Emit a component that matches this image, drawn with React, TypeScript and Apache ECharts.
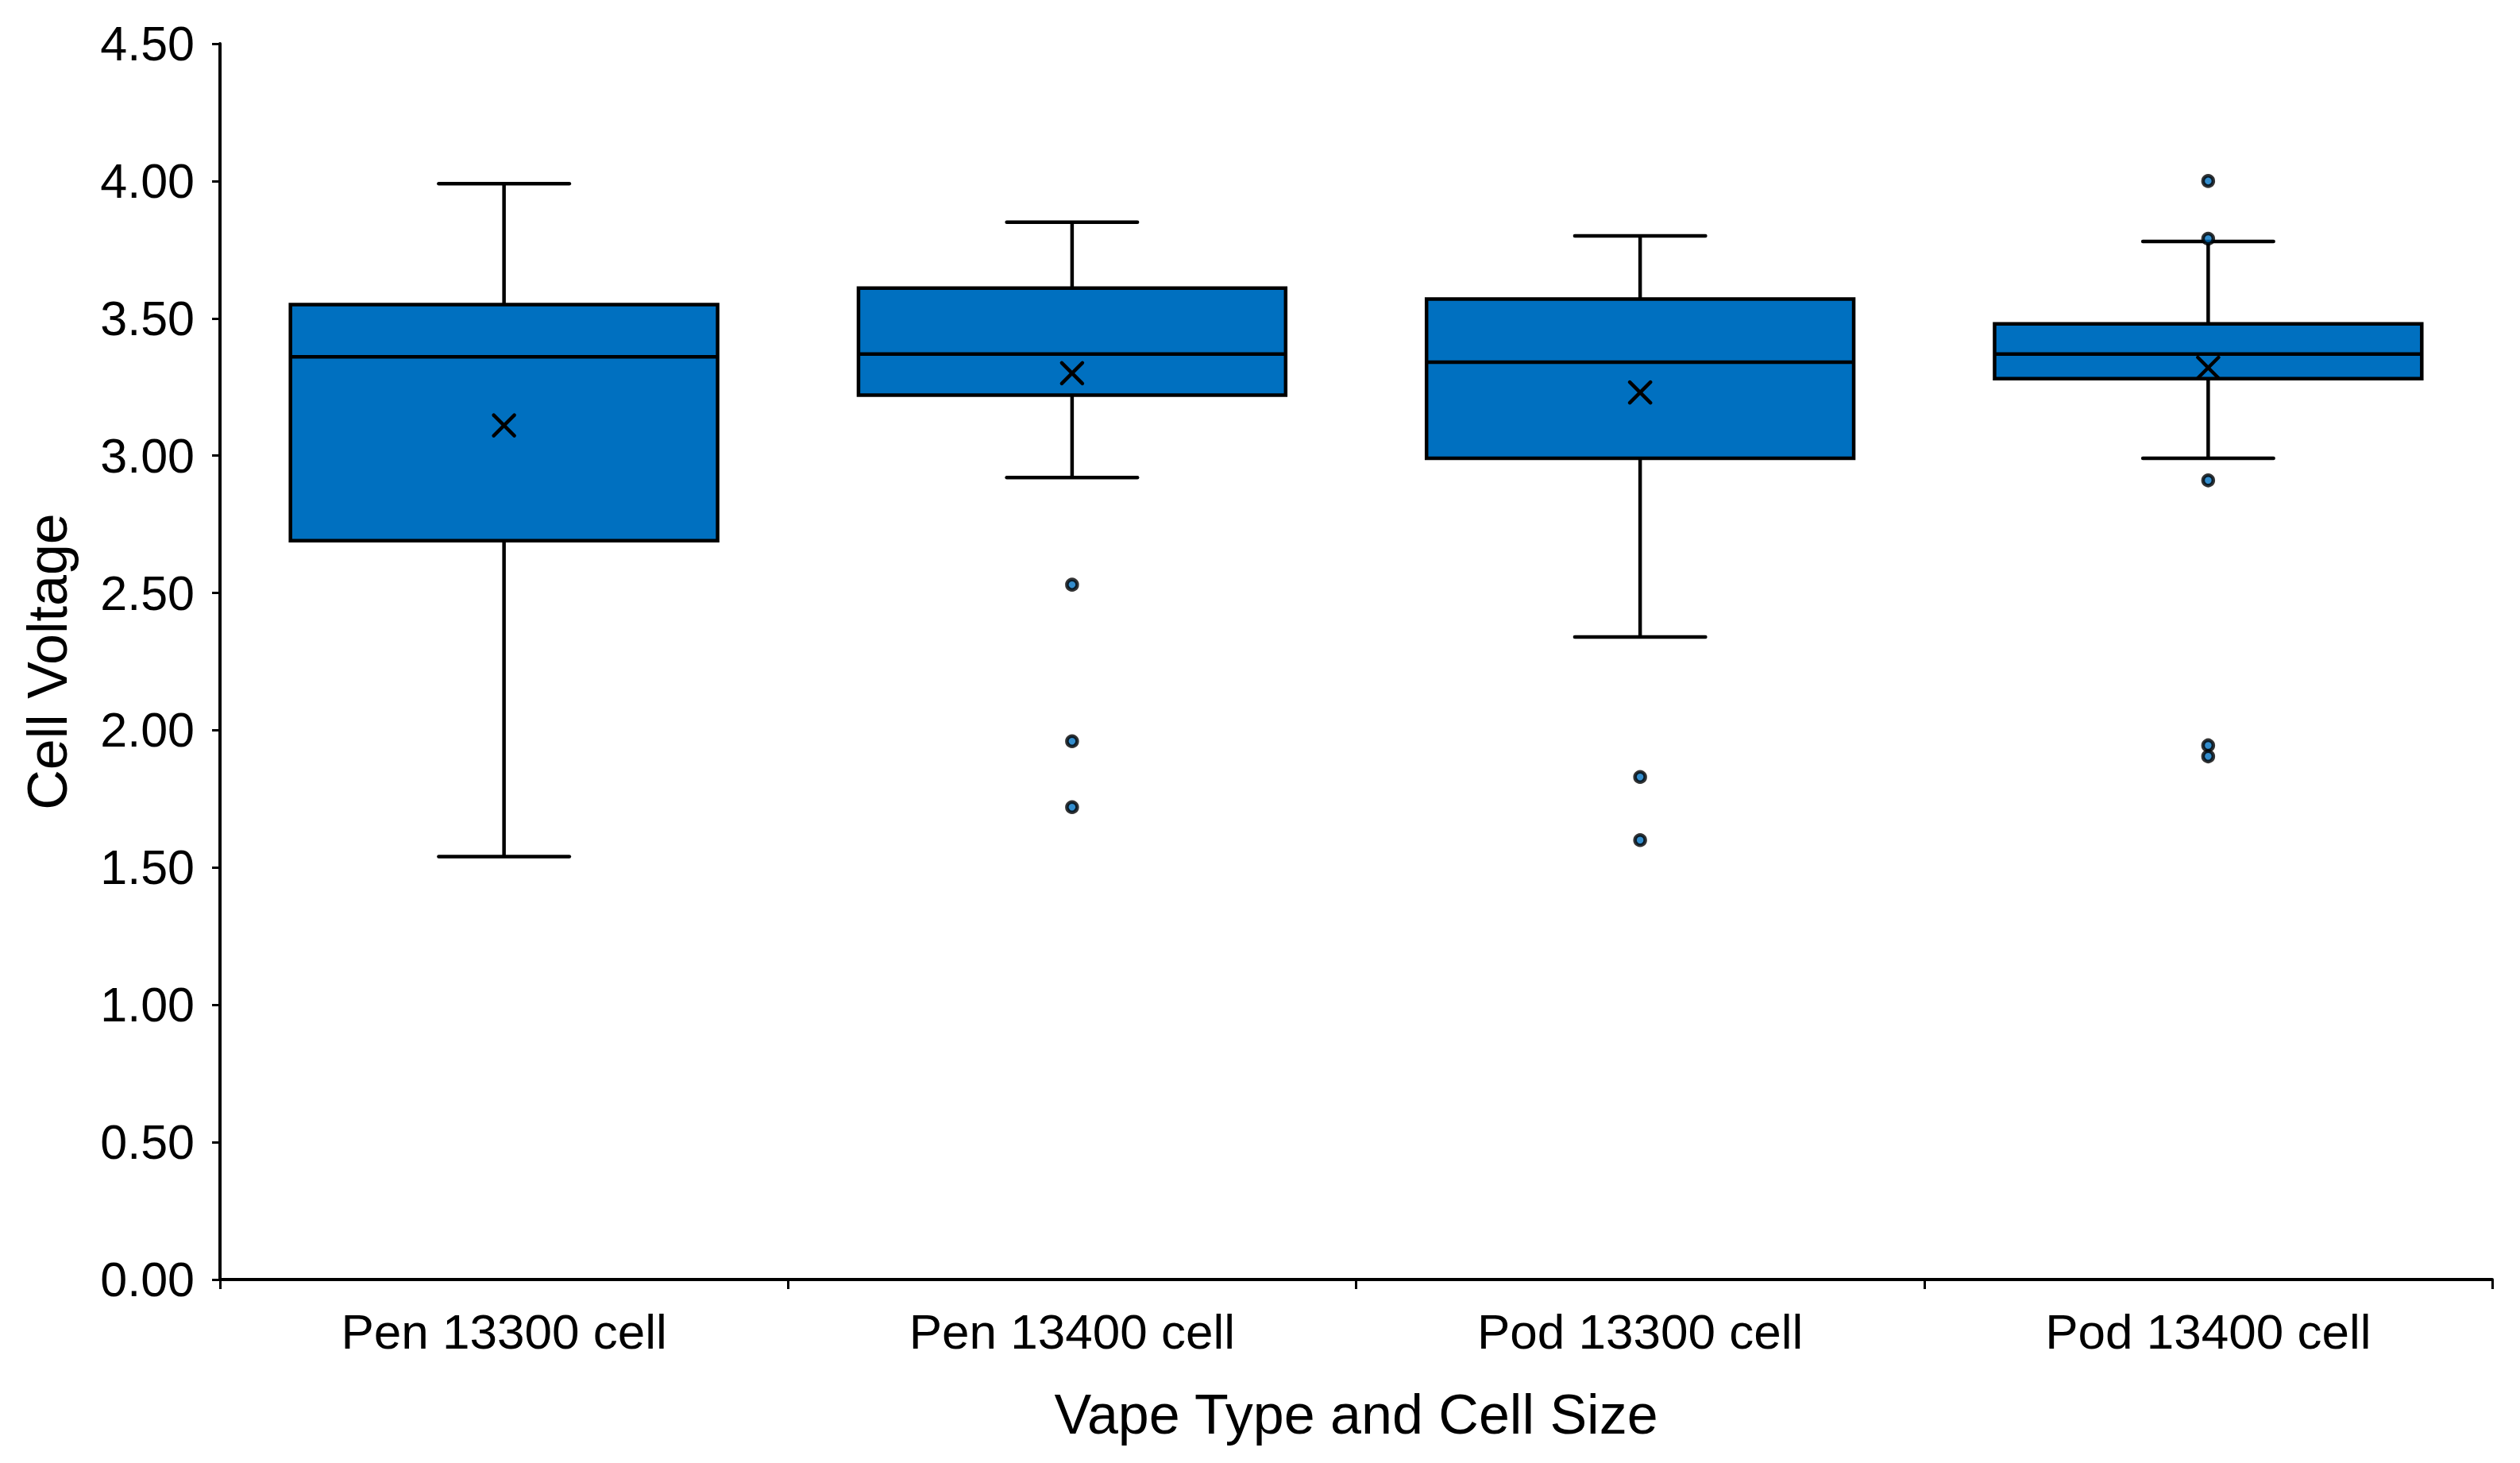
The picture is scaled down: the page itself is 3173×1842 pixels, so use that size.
import React, { useEffect, useRef } from "react";
import * as echarts from "echarts";

const categories = ["Pen 13300 cell", "Pen 13400 cell", "Pod 13300 cell", "Pod 13400 cell"];
const whiskerLow = [1.54, 2.92, 2.34, 2.99];
const q1 = [2.69, 3.22, 2.99, 3.28];
const median = [3.36, 3.37, 3.34, 3.37];
const q3 = [3.55, 3.61, 3.57, 3.48];
const whiskerHigh = [3.99, 3.85, 3.8, 3.78];
const mean = [3.11, 3.3, 3.23, 3.32];
const outlierCategory = [1, 1, 1, 2, 2, 3, 3, 3, 3, 3];
const outlierValue = [2.53, 1.96, 1.72, 1.83, 1.6, 4.0, 3.79, 2.91, 1.945, 1.905];

const yMin = 0;
const yMax = 4.5;
const yInterval = 0.5;

const FONT = "'Liberation Sans', Arial, Helvetica, sans-serif";
const BLUE = "#0070C0";

export default function App() {
  const ref = useRef<HTMLDivElement>(null);

  useEffect(() => {
    if (!ref.current) return;
    const chart = echarts.init(ref.current, null, { renderer: "svg" });

    const boxData = categories.map((_, i) => [
      i,
      whiskerLow[i],
      q1[i],
      median[i],
      q3[i],
      whiskerHigh[i],
      mean[i],
    ]);
    const outlierData = outlierValue.map((v, k) => [outlierCategory[k], v]);

    const renderItem = (params: any, api: any) => {
      const i = api.value(0);
      const cw = api.size([1, 0])[0];
      const [cx, yLo] = api.coord([i, api.value(1)]);
      const yQ1 = api.coord([i, api.value(2)])[1];
      const yMed = api.coord([i, api.value(3)])[1];
      const yQ3 = api.coord([i, api.value(4)])[1];
      const yHi = api.coord([i, api.value(5)])[1];
      const yMean = api.coord([i, api.value(6)])[1];
      const bw = (cw * 0.752) / 2;
      const capw = cw * 0.115;
      const xs = 13;
      const lw = 4.5;
      const ls = { stroke: "#000", lineWidth: lw, fill: null };
      return {
        type: "group",
        children: [
          { type: "line", shape: { x1: cx, y1: yHi, x2: cx, y2: yQ3 }, style: ls },
          { type: "line", shape: { x1: cx, y1: yQ1, x2: cx, y2: yLo }, style: ls },
          { type: "line", shape: { x1: cx - capw, y1: yHi, x2: cx + capw, y2: yHi }, style: { ...ls, lineCap: "round" } },
          { type: "line", shape: { x1: cx - capw, y1: yLo, x2: cx + capw, y2: yLo }, style: { ...ls, lineCap: "round" } },
          {
            type: "rect",
            shape: { x: cx - bw, y: yQ3, width: 2 * bw, height: yQ1 - yQ3 },
            style: { fill: BLUE, stroke: "#000", lineWidth: lw },
          },
          { type: "line", shape: { x1: cx - bw, y1: yMed, x2: cx + bw, y2: yMed }, style: ls },
          {
            type: "line",
            shape: { x1: cx - xs, y1: yMean - xs, x2: cx + xs, y2: yMean + xs },
            style: { stroke: "#000", lineWidth: lw, lineCap: "round" },
          },
          {
            type: "line",
            shape: { x1: cx - xs, y1: yMean + xs, x2: cx + xs, y2: yMean - xs },
            style: { stroke: "#000", lineWidth: lw, lineCap: "round" },
          },
        ],
      };
    };

    chart.setOption({
      animation: false,
      backgroundColor: "#ffffff",
      textStyle: { fontFamily: FONT },
      grid: { left: 277, right: 35, top: 55, bottom: 231, containLabel: false },
      xAxis: {
        type: "category",
        data: categories,
        boundaryGap: true,
        name: "Vape Type and Cell Size",
        nameLocation: "middle",
        nameGap: 135,
        nameTextStyle: { fontSize: 70, color: "#000", fontFamily: FONT },
        axisLine: { show: true, lineStyle: { color: "#000", width: 4 } },
        axisTick: { show: true, length: 12, alignWithLabel: false, lineStyle: { color: "#000", width: 3 } },
        axisLabel: { fontSize: 62, color: "#000", margin: 34, fontFamily: FONT, interval: 0 },
        splitLine: { show: false },
      },
      yAxis: {
        type: "value",
        min: yMin,
        max: yMax,
        interval: yInterval,
        name: "Cell Voltage",
        nameLocation: "middle",
        nameGap: 182,
        nameRotate: 90,
        nameTextStyle: { fontSize: 70, color: "#000", fontFamily: FONT },
        axisLine: { show: true, lineStyle: { color: "#000", width: 4 } },
        axisTick: { show: true, length: 10, inside: false, lineStyle: { color: "#000", width: 3 } },
        axisLabel: {
          fontSize: 61,
          color: "#000",
          margin: 32,
          fontFamily: FONT,
          formatter: (v: number) => v.toFixed(2),
        },
        splitLine: { show: false },
      },
      series: [
        {
          type: "custom",
          renderItem,
          data: boxData,
          encode: { x: 0, y: [1, 2, 3, 4, 5, 6] },
          z: 2,
        },
        {
          type: "scatter",
          data: outlierData,
          symbol: "circle",
          symbolSize: 13,
          itemStyle: { color: BLUE, borderColor: "#000", borderWidth: 4.5 },
          z: 3,
        },
      ],
    });

    return () => chart.dispose();
  }, []);

  return (
    <div
      ref={ref}
      style={{ position: "fixed", left: 0, top: 0, width: 3173, height: 1842, background: "#fff" }}
    />
  );
}
